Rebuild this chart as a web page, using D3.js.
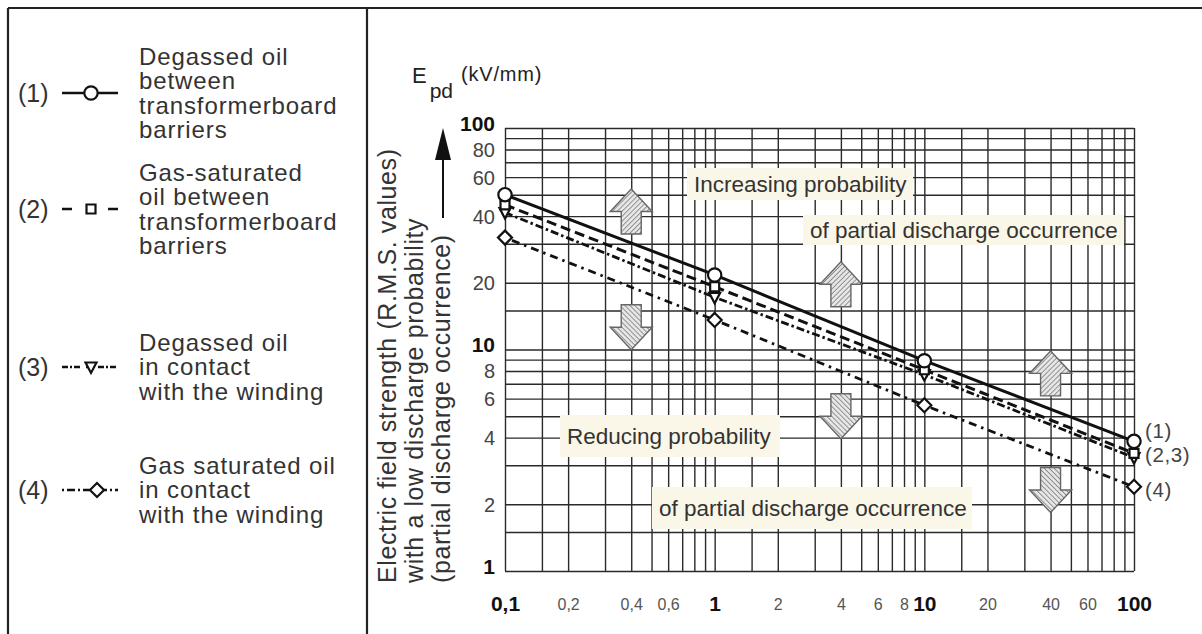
<!DOCTYPE html>
<html>
<head>
<meta charset="utf-8">
<script src="https://cdn.jsdelivr.net/npm/d3@7"></script>
<style>
  body { margin: 0; background: #fff; }
  text { font-family: "Liberation Sans", Arial, sans-serif; }
</style>
</head>
<body>
<script>
// --- data ---
const times = [0.1, 1, 10, 100];
const series1 = [50, 21.7, 8.9, 3.85];   // degassed oil, transformerboard barriers
const series2 = [45, 19.2, 8.1, 3.4];    // gas-saturated oil, barriers
const series3 = [41.5, 17.2, 7.7, 3.25]; // degassed oil, winding
const series4 = [32, 13.6, 5.6, 2.4];    // gas saturated oil, winding
const seriesTags = ["(1)", "(2)", "(3)", "(4)"];
const endTags = ["(1)", "(2,3)", "(4)"];
const legendLines = [
  ["Degassed oil", "between", "transformerboard", "barriers"],
  ["Gas-saturated", "oil between", "transformerboard", "barriers"],
  ["Degassed oil", "in contact", "with the winding"],
  ["Gas saturated oil", "in contact", "with the winding"]
];
const xTickValues = [0.1, 0.2, 0.4, 0.6, 1, 2, 4, 6, 8, 10, 20, 40, 60, 100];
const xTickLabels = ["0,1", "0,2", "0,4", "0,6", "1", "2", "4", "6", "8", "10", "20", "40", "60", "100"];
const yTickValues = [1, 2, 4, 6, 8, 10, 20, 40, 60, 80, 100];
const gridSteps = [1, 1.5, 2, 3, 4, 5, 6, 7, 8, 9];
const yTitle = ["Electric field strength (R.M.S. values)",
                "with a low discharge probability",
                "(partial discharge occurrence)"];

const W = 1202, H = 634;
const svg = d3.select("body").append("svg").attr("width", W).attr("height", H);
svg.append("rect").attr("width", W).attr("height", H).attr("fill", "#fff");

// hatch for the block arrows
const defs = svg.append("defs");
const pat = defs.append("pattern").attr("id", "hatch").attr("patternUnits", "userSpaceOnUse")
  .attr("width", 3.5).attr("height", 3.5).attr("patternTransform", "rotate(45)");
pat.append("rect").attr("width", 3.5).attr("height", 3.5).attr("fill", "#e6e6e6");
pat.append("line").attr("x1", 0).attr("y1", 0).attr("x2", 0).attr("y2", 3.5)
  .attr("stroke", "#666").attr("stroke-width", 1.3);

// frame
const frame = svg.append("g").attr("stroke", "#222").attr("stroke-width", 2.2);
frame.append("line").attr("x1", 8).attr("y1", 8).attr("x2", W).attr("y2", 8);
frame.append("line").attr("x1", 8).attr("y1", 8).attr("x2", 8).attr("y2", H);
frame.append("line").attr("x1", 367).attr("y1", 8).attr("x2", 367).attr("y2", H);

// scales
const x = d3.scaleLog().domain([0.1, 100]).range([505, 1134]);
const y = d3.scaleLog().domain([1, 100]).range([571, 128]);

const xGrid = [].concat(...[0.1, 1, 10].map(d => gridSteps.map(s => d * s)), [100]);
const yGrid = [].concat(...[1, 10].map(d => gridSteps.map(s => d * s)), [100]);

// grid
const gx = svg.append("g").attr("transform", `translate(0,${y(1)})`)
  .call(d3.axisBottom(x).tickValues(xGrid).tickSize(-(y(1) - y(100))).tickFormat(""));
const gy = svg.append("g").attr("transform", `translate(${x(0.1)},0)`)
  .call(d3.axisLeft(y).tickValues(yGrid).tickSize(-(x(100) - x(0.1))).tickFormat(""));
[gx, gy].forEach(g => {
  g.select(".domain").remove();
  g.selectAll("line").attr("stroke", "#2a2a2a").attr("stroke-width", 1.4);
});

// x tick labels
const isDecade = v => [0.1, 1, 10, 100].includes(v);
const xl = svg.append("g").attr("transform", `translate(0,${y(1)})`)
  .call(d3.axisBottom(x).tickValues(xTickValues).tickSize(0)
    .tickFormat((d, i) => xTickLabels[i]));
xl.select(".domain").remove();
xl.selectAll("text")
  .attr("y", 33).attr("dy", "0.35em")
  .attr("font-size", d => isDecade(d) ? 21 : 16)
  .attr("font-weight", d => isDecade(d) ? "bold" : "normal")
  .attr("fill", d => isDecade(d) ? "#111" : "#555");

// y tick labels
const yl = svg.append("g").attr("transform", `translate(${x(0.1)},0)`)
  .call(d3.axisLeft(y).tickValues(yTickValues).tickSize(0).tickPadding(10)
    .tickFormat(d3.format("d")));
yl.select(".domain").remove();
yl.selectAll("text")
  .attr("dy", d => isDecade(d) ? "0.1em" : "0.35em")
  .attr("font-size", d => isDecade(d) ? 21 : 20)
  .attr("font-weight", d => isDecade(d) ? "bold" : "normal")
  .attr("fill", d => isDecade(d) ? "#111" : "#444");

// axis title: E_pd (kV/mm)
const et = svg.append("text").attr("x", 412).attr("y", 83).attr("fill", "#222");
et.append("tspan").attr("font-size", 22).text("E");
et.append("tspan").attr("font-size", 21).attr("dy", 15).attr("dx", 3).text("pd");
et.append("tspan").attr("font-size", 20).attr("letter-spacing", 0.8)
  .attr("dy", -17).attr("dx", 8).text("(kV/mm)");

// upward arrow beside the axis
svg.append("line").attr("x1", 443).attr("x2", 443).attr("y1", 218).attr("y2", 155)
  .attr("stroke", "#111").attr("stroke-width", 2);
svg.append("path").attr("d", "M443,128 L435,160 L451,160 Z").attr("fill", "#111");

// rotated y title
yTitle.forEach((t, i) => {
  svg.append("text")
    .attr("transform", `translate(${396 + i * 27},583) rotate(-90)`)
    .attr("font-size", 25).attr("letter-spacing", 0.6).attr("fill", "#333")
    .text(t);
});

// annotation boxes
const notes = [
  { t: "Increasing probability", x0: 687, x1: 913, yc: 184, h: 32 },
  { t: "of partial discharge occurrence", x0: 803, x1: 1124, yc: 230, h: 30 },
  { t: "Reducing probability", x0: 560, x1: 780, yc: 436, h: 42 },
  { t: "of partial discharge occurrence", x0: 652, x1: 972, yc: 508, h: 42 }
];
notes.forEach(n => {
  svg.append("rect").attr("x", n.x0).attr("y", n.yc - n.h / 2)
    .attr("width", n.x1 - n.x0).attr("height", n.h).attr("fill", "#faf7e8");
  svg.append("text").attr("x", n.x0 + 7).attr("y", n.yc).attr("dy", "0.35em")
    .attr("font-size", 22.5).attr("fill", "#333").text(n.t);
});

// hatched block arrows (x in data units, y = arrow middle in data units)
const blockArrows = [
  { xv: 0.4, yv: 42, up: true }, { xv: 0.4, yv: 12.6, up: false },
  { xv: 4, yv: 19.7, up: true }, { xv: 4, yv: 5.0, up: false },
  { xv: 40, yv: 7.8, up: true }, { xv: 40, yv: 2.32, up: false }
];
const arrowPath = "M0,-22.5 L21,0 L10,0 L10,22.5 L-10,22.5 L-10,0 L-21,0 Z";
blockArrows.forEach(a => {
  svg.append("path").attr("d", arrowPath)
    .attr("transform", `translate(${x(a.xv)},${y(a.yv)}) scale(1,${a.up ? 1 : -1})`)
    .attr("fill", "url(#hatch)").attr("stroke", "#666").attr("stroke-width", 1.4);
});

// series
const allSeries = [series1, series2, series3, series4];
const dashes = [null, "10,5", "8,3,2.5,3", "2.5,5,8,5"];
const widths = [3, 3, 2.8, 2.8];
const markers = ["circle", "square", "tri", "diamond"];

function drawMarker(g, type, cx, cy) {
  const s = g.append("path").attr("fill", "#fff").attr("stroke", "#111").attr("stroke-width", 2.2);
  if (type === "circle") s.attr("d", d3.symbol(d3.symbolCircle, 140)());
  if (type === "square") s.attr("d", "M-4.5,-4.5H4.5V4.5H-4.5Z");
  if (type === "tri") s.attr("d", "M-5.5,-4.5H5.5L0,6Z");
  if (type === "diamond") s.attr("d", "M0,-7L7,0L0,7L-7,0Z");
  s.attr("transform", `translate(${cx},${cy})`);
}

const line = d3.line().x(d => x(d[0])).y(d => y(d[1]));
allSeries.forEach((vals, i) => {
  svg.append("path").datum(times.map((t, k) => [t, vals[k]]))
    .attr("d", line).attr("fill", "none").attr("stroke", "#111")
    .attr("stroke-width", widths[i]).attr("stroke-dasharray", dashes[i]);
});
[3, 2, 1, 0].forEach(i => {
  allSeries[i].forEach((v, k) => drawMarker(svg, markers[i], x(times[k]), y(v)));
});

// end tags
const tagY = [series1[3], (series2[3] + series3[3]) / 2, series4[3]];
const tagShift = [-10, -1, 3];
endTags.forEach((t, i) => {
  svg.append("text").attr("x", x(100) + 11).attr("y", y(tagY[i]) + tagShift[i])
    .attr("dy", "0.35em").attr("font-size", 20.5).attr("letter-spacing", 0.6)
    .attr("fill", "#444").text(t);
});

// legend
const legendY = [93, 209, 367, 490];
const legDash = [null, "10,36,10", "6,2,2,2,6", "2,3,8,3"];
legendLines.forEach((lines, i) => {
  const my = legendY[i];
  svg.append("text").attr("x", 18).attr("y", my).attr("dy", "0.35em")
    .attr("font-size", 25).attr("fill", "#333").text(seriesTags[i]);
  svg.append("line").attr("x1", 62).attr("x2", 118).attr("y1", my).attr("y2", my)
    .attr("stroke", "#111").attr("stroke-width", 2.5).attr("stroke-dasharray", legDash[i]);
  drawMarker(svg, markers[i], i === 3 ? 97 : 91, my);
  const off = (lines.length - 1) / 2;
  lines.forEach((t, k) => {
    svg.append("text").attr("x", 139).attr("y", my + (k - off) * 24.5).attr("dy", "0.35em")
      .attr("font-size", 24).attr("letter-spacing", 0.9).attr("fill", "#333").text(t);
  });
});
</script>
</body>
</html>
